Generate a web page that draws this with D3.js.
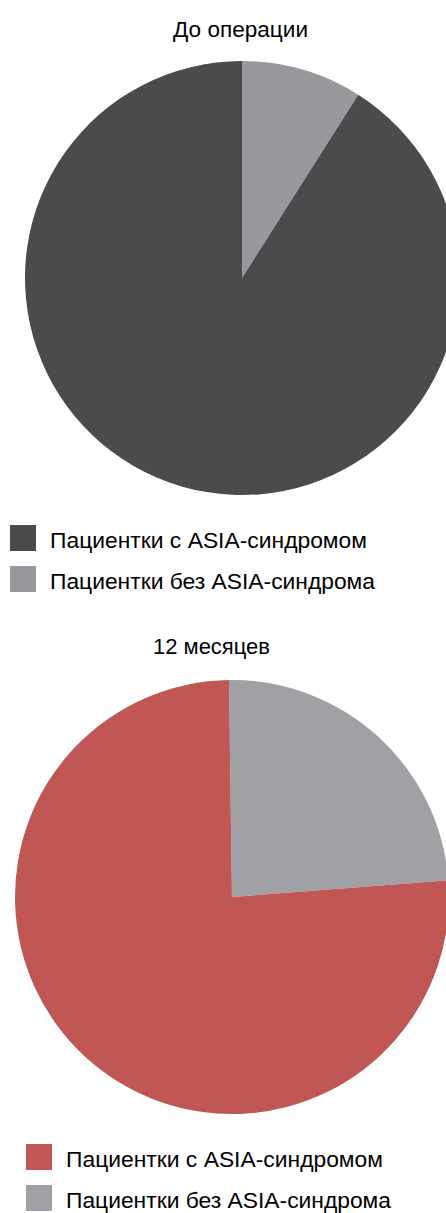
<!DOCTYPE html>
<html>
<head>
<meta charset="utf-8">
<script src="https://cdn.jsdelivr.net/npm/d3@7"></script>
<style>
  html, body { margin: 0; padding: 0; background: #fff; }
  svg { display: block; }
  text { font-family: "Liberation Sans", Arial, sans-serif; fill: #000; }
</style>
</head>
<body>
<svg id="chart" width="446" height="1213"></svg>
<script>
// ---- data ----
const categories = ["Пациентки с ASIA-синдромом", "Пациентки без ASIA-синдрома"];
const titles = ["До операции", "12 месяцев"];
const valuesBefore = [91, 9];   // % before surgery
const valuesAfter = [76, 24];   // % at 12 months

// ---- styling / layout ----
const colorsBefore = ["#4b4b4d", "#98999c"];
const colorsAfter = ["#c05755", "#a0a1a4"];

const svg = d3.select("#chart");

const charts = [
  { title: titles[0], values: valuesBefore, colors: colorsBefore,
    cx: 242, cy: 278, r: 217, titleX: 240.5, titleY: 37, titleW: 135, rot: 0,
    legX: 10, legY: 525, legTextX: 50, legGap: 41 },
  { title: titles[1], values: valuesAfter, colors: colorsAfter,
    cx: 232, cy: 897, r: 217, titleX: 211.5, titleY: 654, titleW: 117, rot: -0.8,
    legX: 26, legY: 1144, legTextX: 66, legGap: 41 }
];

charts.forEach(c => {
  const g = svg.append("g");

  g.append("text")
    .attr("x", c.titleX)
    .attr("y", c.titleY)
    .attr("text-anchor", "middle")
    .attr("font-size", 22)
    .attr("textLength", c.titleW)
    .attr("lengthAdjust", "spacingAndGlyphs")
    .text(c.title);

  // pie: slices drawn clockwise from top, "without" slice first
  const items = categories.map((name, i) => ({ name, value: c.values[i], color: c.colors[i] }));
  const order = [items[1], items[0]];
  const rot = c.rot * Math.PI / 180;
  const pie = d3.pie().sort(null).value(d => d.value)
    .startAngle(rot).endAngle(rot + 2 * Math.PI);
  const arc = d3.arc().innerRadius(0).outerRadius(c.r);

  g.append("g")
    .attr("transform", `translate(${c.cx},${c.cy})`)
    .selectAll("path")
    .data(pie(order))
    .join("path")
    .attr("d", arc)
    .attr("fill", d => d.data.color);

  // legend
  const leg = g.append("g");
  items.forEach((it, i) => {
    leg.append("rect")
      .attr("x", c.legX)
      .attr("y", c.legY + i * c.legGap)
      .attr("width", 26)
      .attr("height", 26)
      .attr("fill", it.color);
    leg.append("text")
      .attr("x", c.legTextX)
      .attr("y", c.legY + i * c.legGap + 23)
      .attr("font-size", 22)
      .attr("textLength", i === 0 ? 317 : 325)
      .attr("lengthAdjust", "spacingAndGlyphs")
      .text(it.name);
  });
});
</script>
</body>
</html>
